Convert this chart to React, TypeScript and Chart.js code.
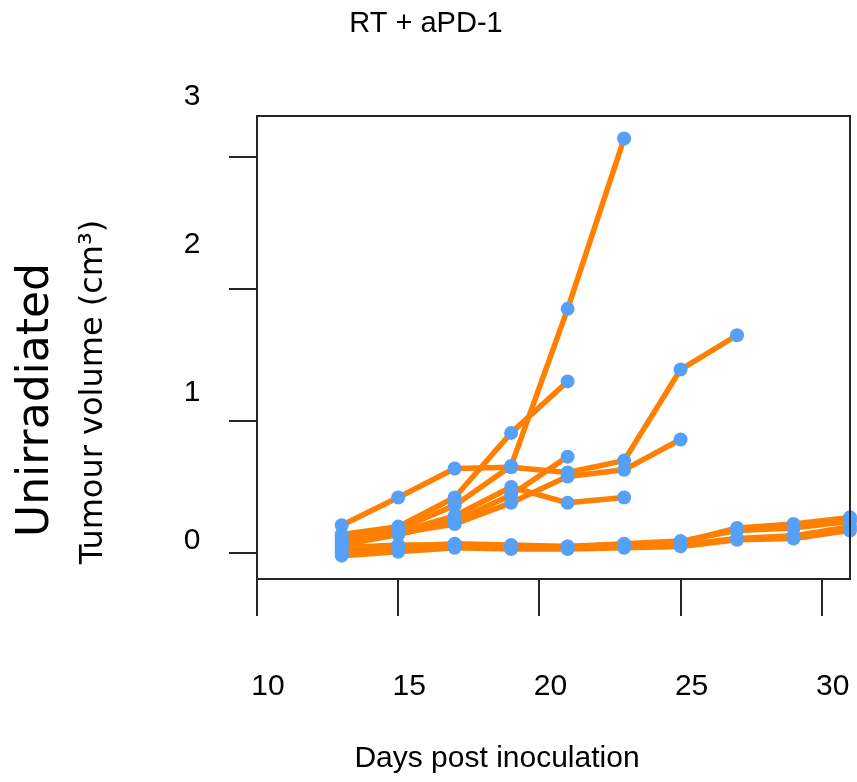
import { useEffect, useRef } from "react";
import { Chart, registerables } from "chart.js";

Chart.register(...registerables);

// ---- data ----
const days = [13, 15, 17, 19, 21, 23, 25, 27, 29, 31];

const mouse1 = [0.12, 0.18, 0.36, 0.66, 1.85, 3.14];
const mouse2 = [0.21, 0.42, 0.64, 0.65, 0.61, 0.7, 1.39, 1.65];
const mouse3 = [0.14, 0.2, 0.42, 0.91, 1.3];
const mouse4 = [0.08, 0.16, 0.28, 0.5, 0.38, 0.42];
const mouse5 = [0.06, 0.14, 0.24, 0.44, 0.73];
const mouse6 = [0.1, 0.15, 0.22, 0.38, 0.58, 0.63, 0.86];
const mouse7 = [0.04, 0.06, 0.06, 0.05, 0.05, 0.06, 0.08, 0.19, 0.22, 0.27];
const mouse8 = [0.0, 0.03, 0.05, 0.04, 0.04, 0.05, 0.06, 0.11, 0.13, 0.2];
const mouse9 = [0.02, 0.05, 0.07, 0.06, 0.05, 0.07, 0.09, 0.17, 0.19, 0.24];
const mouse10 = [-0.02, 0.01, 0.04, 0.03, 0.03, 0.04, 0.05, 0.1, 0.11, 0.17];

const allMice = [mouse1, mouse2, mouse3, mouse4, mouse5, mouse6, mouse7, mouse8, mouse9, mouse10];

const xTicks = [10, 15, 20, 25, 30];
const xTickLabels = ["10", "15", "20", "25", "30"];
const yTicks = [0, 1, 2, 3];
const yTickLabels = ["0", "1", "2", "3"];

const chartTitle = "RT + aPD-1";
const xTitle = "Days post inoculation";
const yTitle = "Tumour volume (cm³)";
const rowTitle = "Unirradiated";

// ---- style ----
const ORANGE = "#FF8000";
const BLUE = "#57A0F7";
const AXIS = "#262626";
const ARIAL = '"Liberation Sans", Arial, sans-serif';
const ROUND = '"DejaVu Sans", sans-serif';

const toPoints = (vals: number[]) => vals.map((v, i) => ({ x: days[i], y: v }));

const framePlugin = {
  id: "frame",
  afterDraw(chart: any) {
    const ctx = chart.ctx as CanvasRenderingContext2D;
    const a = chart.chartArea;
    ctx.save();
    ctx.strokeStyle = AXIS;
    ctx.lineWidth = 2;
    ctx.beginPath();
    ctx.moveTo(a.left, a.top);
    ctx.lineTo(a.right, a.top);
    ctx.lineTo(a.right, a.bottom);
    ctx.stroke();
    ctx.restore();
  },
};

const textPlugin = {
  id: "customText",
  afterDraw(chart: any) {
    const ctx = chart.ctx as CanvasRenderingContext2D;
    const area = chart.chartArea;
    const yLab = chart.scales.yLab;
    ctx.save();
    ctx.fillStyle = "#000";

    // y tick labels (placed on their own label scale)
    ctx.font = `30px ${ARIAL}`;
    ctx.textAlign = "center";
    ctx.textBaseline = "middle";
    yTicks.forEach((v, i) => {
      ctx.fillText(yTickLabels[i], area.left - 65, yLab.getPixelForValue(v));
    });

    // x axis title
    ctx.textBaseline = "alphabetic";
    ctx.font = `30px ${ARIAL}`;
    ctx.fillText(xTitle, 497, 767);

    // y axis titles
    ctx.save();
    ctx.translate(102, 392);
    ctx.rotate(-Math.PI / 2);
    ctx.font = `32px ${ROUND}`;
    ctx.fillText(yTitle, 0, 0);
    ctx.restore();

    ctx.save();
    ctx.translate(48, 400);
    ctx.rotate(-Math.PI / 2);
    ctx.font = `44px ${ROUND}`;
    ctx.fillText(rowTitle, 0, 0);
    ctx.restore();

    ctx.restore();
  },
};

export default function App() {
  const canvasRef = useRef<HTMLCanvasElement | null>(null);

  useEffect(() => {
    const canvas = canvasRef.current;
    if (!canvas) return;

    const lineSets = allMice.map((vals) => ({
      data: toPoints(vals),
      xAxisID: "x",
      yAxisID: "y",
      borderColor: ORANGE,
      borderWidth: 5.5,
      borderJoinStyle: "round" as const,
      borderCapStyle: "round" as const,
      pointRadius: 0,
      pointHoverRadius: 0,
      fill: false,
      tension: 0,
      order: 1,
    }));
    const pointSets = allMice.map((vals) => ({
      data: toPoints(vals),
      xAxisID: "x",
      yAxisID: "y",
      showLine: false,
      pointRadius: 7,
      pointHoverRadius: 7,
      pointBackgroundColor: BLUE,
      pointBorderWidth: 0,
      borderColor: BLUE,
      order: 0,
      clip: false as const,
    }));

    const chart = new Chart(canvas, {
      type: "line",
      data: { datasets: [...lineSets, ...pointSets] as any },
      plugins: [framePlugin, textPlugin],
      options: {
        responsive: false,
        animation: false,
        devicePixelRatio: 1,
        layout: { padding: { left: 0, right: 5, top: 0, bottom: 0 } },
        plugins: {
          legend: { display: false },
          tooltip: { enabled: false },
          title: {
            display: true,
            text: chartTitle,
            color: "#000",
            font: { family: ARIAL, size: 29, weight: "normal", lineHeight: 1.2 },
            padding: { top: 7, bottom: 74.2 },
          },
        },
        scales: {
          x: {
            type: "linear",
            position: "bottom",
            min: 10,
            max: 31,
            afterBuildTicks: (s: any) => {
              s.ticks = xTicks.map((v) => ({ value: v }));
            },
            afterFit: (s: any) => {
              s.height = 203;
              s.paddingLeft = 0;
              s.paddingRight = 0;
            },
            ticks: {
              callback: (v: any) => xTickLabels[xTicks.indexOf(Number(v))] ?? "",
              color: "#000",
              font: { family: ARIAL, size: 30 },
              labelOffset: 11,
              padding: 53,
              maxRotation: 0,
              autoSkip: false,
            },
            grid: {
              drawOnChartArea: false,
              drawTicks: true,
              tickLength: 37,
              color: AXIS,
              lineWidth: 2,
            },
            border: { display: true, color: AXIS, width: 2 },
          },
          y: {
            type: "linear",
            position: "left",
            min: -0.197,
            max: 3.311,
            afterBuildTicks: (s: any) => {
              s.ticks = yTicks.map((v) => ({ value: v }));
            },
            afterFit: (s: any) => {
              s.width = 257;
              s.paddingTop = 0;
              s.paddingBottom = 0;
            },
            ticks: { display: false },
            grid: {
              drawOnChartArea: false,
              drawTicks: true,
              tickLength: 28,
              color: AXIS,
              lineWidth: 2,
            },
            border: { display: true, color: AXIS, width: 2 },
          },
          yLab: {
            type: "linear",
            axis: "y",
            display: false,
            min: -0.257,
            max: 2.872,
          },
        },
      } as any,
    });

    return () => chart.destroy();
  }, []);

  return (
    <div style={{ position: "absolute", left: 0, top: 0, width: 857, height: 782, background: "#fff" }}>
      <canvas ref={canvasRef} width={857} height={782} style={{ display: "block" }} />
    </div>
  );
}
